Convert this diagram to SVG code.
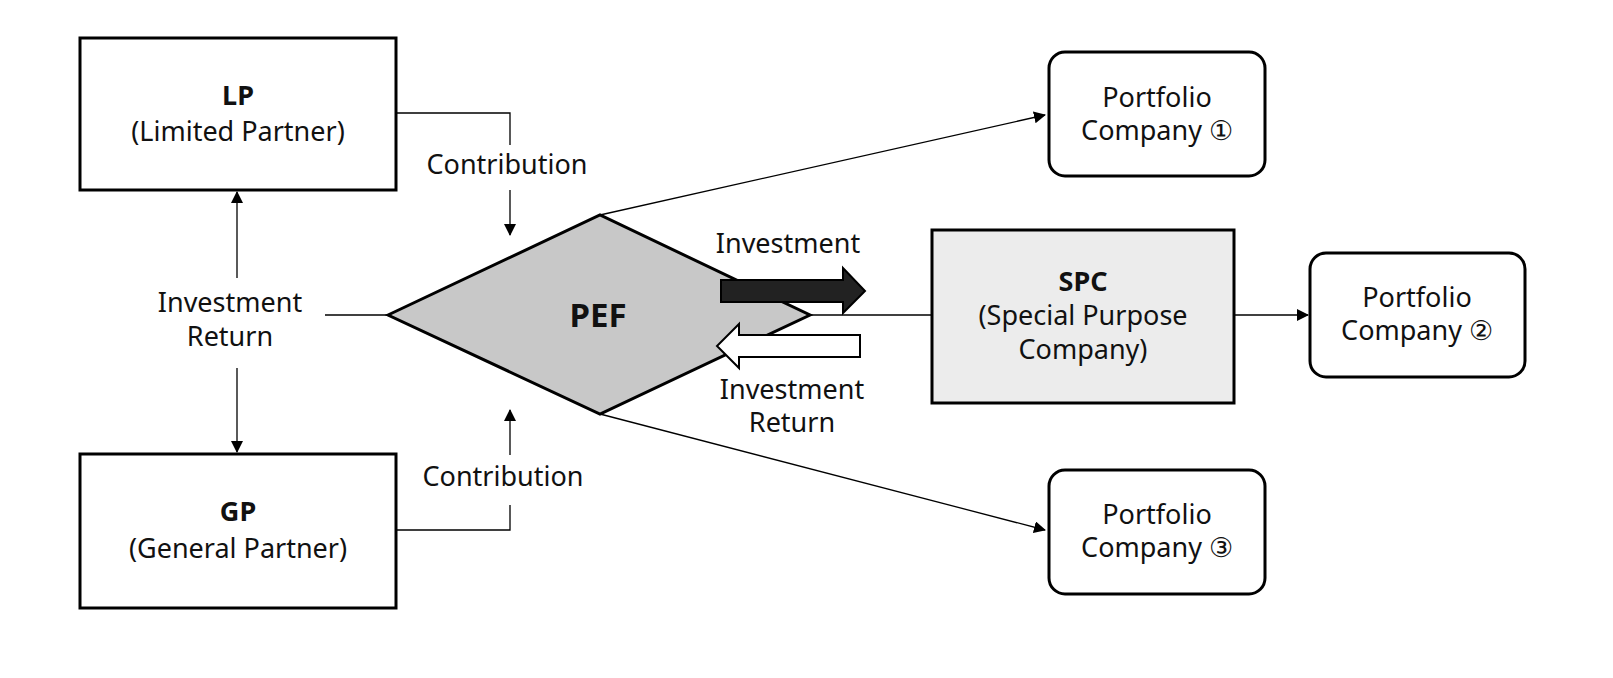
<svg xmlns="http://www.w3.org/2000/svg" width="1613" height="678" viewBox="0 0 1613 678">
<style>
text{font-family:"Noto Sans","Open Sans",sans-serif;font-size:27px;fill:#111;text-anchor:middle}
.b{font-weight:bold}
.box{fill:#fff;stroke:#000;stroke-width:3}
.ln{fill:none;stroke:#000;stroke-width:1.3}
</style>
<defs><marker id="a" markerWidth="12" markerHeight="12" refX="11" refY="6" orient="auto" markerUnits="userSpaceOnUse"><path d="M0,0L12,6L0,12Z" fill="#000"/></marker></defs>
<rect width="1613" height="678" fill="#fff"/>
<g id="connectors">
<path class="ln" d="M396,113H510V145"/><path class="ln" d="M510,190V235" marker-end="url(#a)"/>
<path class="ln" d="M396,530H510V505"/><path class="ln" d="M510,455V410" marker-end="url(#a)"/>
<path class="ln" d="M237,278V192" marker-end="url(#a)"/><path class="ln" d="M237,368V452" marker-end="url(#a)"/>
<path class="ln" d="M325,315H390"/>
<path class="ln" d="M600,215L1045,115" marker-end="url(#a)"/>
<path class="ln" d="M600,414L1045,530" marker-end="url(#a)"/>
<path class="ln" d="M808,315H932"/>
<path class="ln" d="M1234,315H1308" marker-end="url(#a)"/>
<text x="507" y="174">Contribution</text>
<text x="503" y="486">Contribution</text>
<text x="230" y="312">Investment</text><text x="230" y="346">Return</text>
<text x="788" y="253">Investment</text>
<text x="792" y="399">Investment</text><text x="792" y="432">Return</text>
</g>
<g id="LP"><rect class="box" x="80" y="38" width="316" height="152"/><text class="b" x="238" y="105">LP</text><text x="238" y="141">(Limited Partner)</text></g>
<g id="GP"><rect class="box" x="80" y="454" width="316" height="154"/><text class="b" x="238" y="521">GP</text><text x="238" y="558">(General Partner)</text></g>
<g id="PEF"><polygon points="388,315 600,215 810,315 600,414" fill="#c8c8c8" stroke="#000" stroke-width="3"/><text class="b" x="598" y="327" style="font-size:33px">PEF</text></g>
<g id="arrows">
<path d="M721,280H843V268L865,291L843,313V302H721Z" fill="#222" stroke="#000" stroke-width="2"/>
<path d="M860,335H739V324L717,346L739,368V357H860Z" fill="#fff" stroke="#000" stroke-width="2"/>
</g>
<g id="SPC"><rect x="932" y="230" width="302" height="173" fill="#ececec" stroke="#000" stroke-width="3"/><text class="b" x="1083" y="291">SPC</text><text x="1083" y="325">(Special Purpose</text><text x="1083" y="359">Company)</text></g>
<g id="P1"><rect class="box" x="1049" y="52" width="216" height="124" rx="16"/><text x="1157" y="107">Portfolio</text><text x="1157" y="140">Company ①</text></g>
<g id="P2"><rect class="box" x="1310" y="253" width="215" height="124" rx="16"/><text x="1417" y="307">Portfolio</text><text x="1417" y="340">Company ②</text></g>
<g id="P3"><rect class="box" x="1049" y="470" width="216" height="124" rx="16"/><text x="1157" y="524">Portfolio</text><text x="1157" y="557">Company ③</text></g>
</svg>
